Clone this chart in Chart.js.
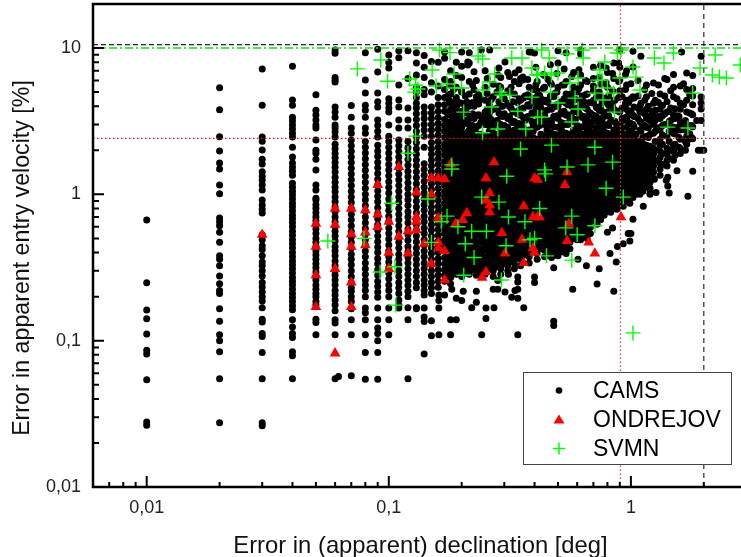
<!DOCTYPE html>
<html>
<head>
<meta charset="utf-8">
<title>Errors in apparent declination and entry velocity</title>
<script src="https://cdn.jsdelivr.net/npm/chart.js@4/dist/chart.umd.min.js"></script>
<style>
  html, body { margin: 0; padding: 0; background: #fff; }
  canvas { display: block; }
</style>
</head>
<body>
<canvas id="chart" width="741" height="557"></canvas>
<script>
const X_TITLE = "Error in (apparent) declination [deg]";
const Y_TITLE = "Error in apparent entry velocity [%]";
const LEGEND_NAMES = ["CAMS", "ONDREJOV", "SVMN"];

const xLimits = [0.006, 2.85];
const yLimits = [0.01, 20];
const xTickValues = [0.01, 0.1, 1];
const yTickValues = [0.01, 0.1, 1, 10];
const xMinorTicks = [0.007, 0.008, 0.009, 0.02, 0.03, 0.04, 0.05, 0.06, 0.07, 0.08, 0.09, 0.2, 0.3, 0.4, 0.5, 0.6, 0.7, 0.8, 0.9, 2];
const yMinorTicks = [0.02, 0.03, 0.04, 0.05, 0.06, 0.07, 0.08, 0.09, 0.2, 0.3, 0.4, 0.5, 0.6, 0.7, 0.8, 0.9, 2, 3, 4, 5, 6, 7, 8, 9];

// limits drawn as reference lines
const redVelocity = 2.41;
const redDeclination = 0.905;
const blackVelocity = 10.55;
const greenVelocity = 10;
const blackDeclination = 2;

// CAMS, one list of velocity errors per (quantised) declination error
const camsColumnX = [0.01, 0.02, 0.03, 0.04, 0.05, 0.06, 0.07, 0.08, 0.09, 0.1, 0.11, 0.12, 0.13, 0.14, 0.15, 0.16,
  0.17, 0.18, 0.19, 0.2, 0.215, 0.23, 0.25, 0.27, 0.29, 0.31, 0.33, 0.35, 0.38, 0.41, 0.44, 0.47, 0.5, 0.54, 0.58,
  0.62, 0.66, 0.7, 0.75, 0.8, 0.85, 0.9, 0.96, 1.02, 1.09, 1.16, 1.24, 1.32, 1.41, 1.5, 1.6, 1.7, 1.8, 1.95];
const camsColumnY = [
  [0.667, 0.249, 0.162, 0.141, 0.111, 0.086, 0.081, 0.054, 0.0278, 0.0264],
  [5.35, 3.79, 2.48, 1.98, 1.64, 1.49, 1.16, 1.01, 0.689, 0.65, 0.61, 0.55, 0.47, 0.38, 0.36, 0.325, 0.277, 0.245, 0.22, 0.21, 0.165, 0.136, 0.11, 0.1, 0.084, 0.055, 0.0275],
  [7.2, 4.07, 2.47, 2.31, 2.01, 1.74, 1.61, 1.43, 1.33, 1.25, 1.16, 1.07, 0.915, 0.845, 0.79, 0.745, 0.53, 0.49, 0.445, 0.42, 0.38, 0.345, 0.325, 0.3, 0.277, 0.25, 0.233, 0.215, 0.2, 0.187, 0.168, 0.14, 0.134, 0.112, 0.107, 0.083, 0.055, 0.0275, 0.0262],
  [7.5, 4.41, 4.07, 3.37, 3.17, 2.98, 2.8, 2.62, 2.47, 2.1, 1.8, 1.64, 1.53, 1.44, 1.35, 1.19, 1.12, 1.05, 0.99, 0.93, 0.87, 0.82, 0.77, 0.72, 0.68, 0.64, 0.6, 0.56, 0.525, 0.49, 0.46, 0.43, 0.4, 0.375, 0.35, 0.33, 0.31, 0.29, 0.27, 0.255, 0.24, 0.225, 0.21, 0.197, 0.185, 0.173, 0.163, 0.139, 0.124, 0.112, 0.105, 0.084, 0.079, 0.055],
  [4.8, 3.76, 3.48, 3.22, 2.98, 2.84, 2.35, 2.0, 1.91, 1.74, 1.47, 1.16, 1.07, 0.94, 0.915, 0.85, 0.8, 0.75, 0.7, 0.66, 0.62, 0.58, 0.54, 0.5, 0.47, 0.44, 0.41, 0.385, 0.36, 0.335, 0.315, 0.295, 0.275, 0.26, 0.24, 0.225, 0.21, 0.2, 0.185, 0.175, 0.14, 0.133, 0.11],
  [9.7, 9.2, 6.3, 6.05, 5.85, 3.95, 3.65, 3.37, 2.98, 2.84, 2.67, 2.47, 2.2, 2.05, 1.9, 1.78, 1.65, 1.53, 1.42, 1.31, 1.21, 1.12, 1.04, 0.96, 0.89, 0.82, 0.76, 0.7, 0.65, 0.6, 0.56, 0.52, 0.48, 0.44, 0.41, 0.38, 0.35, 0.325, 0.3, 0.28, 0.26, 0.24, 0.22, 0.205, 0.19, 0.175, 0.16, 0.139, 0.132, 0.11, 0.055],
  [4.05, 3.37, 2.84, 2.62, 2.35, 2.15, 1.97, 1.8, 1.65, 1.51, 1.38, 1.26, 1.15, 1.05, 0.96, 0.88, 0.8, 0.73, 0.67, 0.61, 0.56, 0.51, 0.47, 0.43, 0.39, 0.36, 0.33, 0.3, 0.275, 0.25, 0.23, 0.218, 0.2, 0.185, 0.165, 0.139, 0.11, 0.0575],
  [9.3, 6.04, 4.92, 4.07, 3.76, 3.37, 2.84, 2.62, 2.3, 2.1, 1.92, 1.75, 1.6, 1.46, 1.33, 1.21, 1.1, 1.0, 0.92, 0.84, 0.77, 0.7, 0.64, 0.585, 0.535, 0.49, 0.45, 0.41, 0.375, 0.34, 0.31, 0.285, 0.26, 0.24, 0.22, 0.2, 0.167, 0.155, 0.139, 0.11, 0.083, 0.0545],
  [9.8, 6.85, 4.92, 4.3, 3.95, 3.22, 2.95, 2.7, 2.47, 2.17, 1.98, 1.82, 1.66, 1.52, 1.39, 1.27, 1.16, 1.06, 0.97, 0.89, 0.81, 0.74, 0.68, 0.62, 0.57, 0.52, 0.475, 0.435, 0.4, 0.365, 0.335, 0.305, 0.28, 0.255, 0.235, 0.215, 0.198, 0.167, 0.139, 0.122, 0.112, 0.1, 0.083, 0.0545],
  [8.96, 8.0, 7.3, 4.5, 4.2, 3.9, 3.65, 2.98, 2.5, 2.3, 2.1, 1.92, 1.75, 1.6, 1.47, 1.34, 1.22, 1.12, 1.02, 0.93, 0.85, 0.78, 0.71, 0.65, 0.59, 0.54, 0.495, 0.45, 0.41, 0.375, 0.345, 0.315, 0.29, 0.265, 0.24, 0.22, 0.2, 0.167, 0.139, 0.11],
  [9.6, 8.6, 5.6, 4.41, 3.95, 3.22, 2.84, 2.35, 2.15, 1.97, 1.8, 1.65, 1.51, 1.38, 1.26, 1.15, 1.05, 0.96, 0.88, 0.8, 0.73, 0.67, 0.61, 0.56, 0.51, 0.47, 0.43, 0.39, 0.36, 0.33, 0.3, 0.275, 0.25, 0.23, 0.21, 0.19, 0.175, 0.167],
  [9.6, 6.2, 3.9, 3.22, 2.84, 2.3, 2.08, 1.9, 1.73, 1.58, 1.44, 1.32, 1.2, 1.1, 1.0, 0.92, 0.84, 0.76, 0.7, 0.64, 0.58, 0.53, 0.485, 0.44, 0.405, 0.37, 0.34, 0.31, 0.285, 0.26, 0.238, 0.218, 0.2, 0.168, 0.139, 0.055],
  [9.3, 7.9, 6.54, 5.4, 5.0, 4.6, 4.2, 3.9, 3.55, 3.25, 2.95, 2.7, 2.47, 2.25, 2.05, 1.88, 1.72, 1.57, 1.43, 1.3, 1.18, 1.08, 0.99, 0.9, 0.82, 0.75, 0.68, 0.62, 0.57, 0.52, 0.475, 0.43, 0.395, 0.36, 0.33, 0.3, 0.275, 0.25, 0.23, 0.168],
  [8.9, 7.4, 6.3, 5.2, 4.8, 3.95, 3.6, 3.3, 3.0, 2.75, 2.5, 2.1, 1.62, 1.48, 1.35, 1.23, 1.12, 1.02, 0.93, 0.85, 0.78, 0.71, 0.65, 0.59, 0.54, 0.49, 0.45, 0.41, 0.375, 0.34, 0.31, 0.285, 0.26, 0.24, 0.22, 0.205],
  [8.1, 5.8, 5.0, 3.95, 3.6, 3.3, 3.0, 2.75, 2.5, 2.25, 2.05, 1.88, 1.72, 1.57, 1.43, 1.3, 1.18, 1.08, 0.98, 0.9, 0.82, 0.75, 0.68, 0.62, 0.57, 0.52, 0.475, 0.43, 0.395, 0.36, 0.33, 0.3, 0.275, 0.25, 0.23, 0.21],
  [8.0, 5.5, 4.6, 4.1, 3.7, 3.35, 3.05, 2.8, 2.55, 2.3, 2.1, 1.92, 1.75, 1.6, 1.45, 1.33, 1.21, 1.1, 1.0, 0.91, 0.83, 0.76, 0.69, 0.63, 0.575, 0.525, 0.48, 0.44, 0.4, 0.365, 0.335, 0.305, 0.28, 0.255, 0.232],
  [9.4, 8.5, 6.1, 5.2, 4.6, 4.1, 3.7, 3.25, 2.95, 2.7, 2.45, 2.2, 2.02, 1.85, 1.68, 1.53, 1.4, 1.27, 1.16, 1.05, 0.96, 0.87, 0.79, 0.72, 0.65, 0.59, 0.54, 0.49, 0.45, 0.41, 0.37, 0.335, 0.305, 0.28, 0.255],
  [7.0, 5.9, 4.85, 4.2, 3.82, 3.47, 3.15, 2.87, 2.62, 2.38, 2.17, 1.97, 1.79, 1.63, 1.49, 1.35, 1.23, 1.12, 1.02, 0.925, 0.84, 0.765, 0.695, 0.63, 0.575, 0.525, 0.475, 0.435, 0.395, 0.36, 0.325, 0.295, 0.27, 0.245],
  [8.0, 6.5, 5.4, 4.4, 4.0, 3.65, 3.3, 3.0, 2.75, 2.5, 2.27, 2.07, 1.88, 1.71, 1.56, 1.42, 1.29, 1.17, 1.07, 0.97, 0.88, 0.8, 0.73, 0.66, 0.6, 0.55, 0.5, 0.455, 0.415, 0.375, 0.34, 0.31, 0.285],
  [6.3, 5.1, 4.2, 3.47, 3.15, 2.87, 2.62, 2.38, 2.17, 1.97, 1.79, 1.63, 1.49, 1.35, 1.23, 1.12, 1.02, 0.925, 0.84, 0.765, 0.695, 0.63, 0.575, 0.525, 0.475, 0.435, 0.395, 0.36, 0.325, 0.3, 0.275],
  [9.3, 7.9, 5.9, 4.85, 4.0, 3.3, 3.0, 2.75, 2.5, 2.27, 2.07, 1.88, 1.71, 1.56, 1.42, 1.29, 1.17, 1.07, 0.97, 0.88, 0.8, 0.73, 0.66, 0.6, 0.55, 0.5, 0.455, 0.415, 0.375, 0.34, 0.31, 0.285],
  [6.0, 4.65, 4.2, 3.47, 2.87, 2.62, 2.38, 2.17, 1.97, 1.79, 1.63, 1.49, 1.35, 1.23, 1.12, 1.02, 0.925, 0.84, 0.765, 0.695, 0.63, 0.575, 0.525, 0.475, 0.435, 0.395, 0.36, 0.325, 0.3, 0.28],
  [7.0, 5.4, 4.4, 3.65, 3.3, 3.0, 2.5, 2.27, 2.07, 1.88, 1.71, 1.56, 1.42, 1.29, 1.17, 1.07, 0.97, 0.88, 0.8, 0.73, 0.66, 0.6, 0.55, 0.5, 0.455, 0.415, 0.375, 0.34, 0.31, 0.285],
  [5.65, 4.65, 3.82, 3.15, 2.87, 2.62, 2.38, 2.17, 1.97, 1.79, 1.63, 1.49, 1.35, 1.23, 1.12, 1.02, 0.925, 0.84, 0.765, 0.695, 0.63, 0.575, 0.525, 0.475, 0.435, 0.395, 0.36, 0.325, 0.3, 0.275],
  [6.3, 5.4, 4.0, 3.47, 3.0, 2.75, 2.5, 2.27, 2.07, 1.88, 1.71, 1.56, 1.42, 1.29, 1.17, 1.07, 0.97, 0.88, 0.8, 0.73, 0.66, 0.6, 0.55, 0.5, 0.455, 0.415, 0.375, 0.34, 0.31, 0.285],
  [6.8, 5.1, 4.2, 3.3, 2.87, 2.62, 2.38, 2.17, 1.97, 1.79, 1.63, 1.49, 1.35, 1.23, 1.12, 1.02, 0.925, 0.84, 0.765, 0.695, 0.63, 0.575, 0.525, 0.475, 0.435, 0.395, 0.36, 0.325, 0.3],
  [5.9, 4.85, 3.65, 3.15, 2.75, 2.5, 2.27, 2.07, 1.88, 1.71, 1.56, 1.42, 1.29, 1.17, 1.07, 0.97, 0.88, 0.8, 0.73, 0.66, 0.6, 0.55, 0.5, 0.455, 0.415, 0.375, 0.34, 0.31],
  [6.2, 4.4, 3.82, 3.47, 3.0, 2.62, 2.38, 2.17, 1.97, 1.79, 1.63, 1.49, 1.35, 1.23, 1.12, 1.02, 0.925, 0.84, 0.765, 0.695, 0.63, 0.575, 0.525, 0.475, 0.435, 0.395, 0.36, 0.325],
  [9.4, 5.4, 4.65, 4.0, 3.3, 2.75, 2.5, 2.27, 2.07, 1.88, 1.71, 1.56, 1.42, 1.29, 1.17, 1.07, 0.97, 0.88, 0.8, 0.73, 0.66, 0.6, 0.55, 0.5, 0.455, 0.415, 0.375, 0.34],
  [5.9, 5.1, 4.2, 3.65, 3.15, 2.87, 2.38, 2.17, 1.97, 1.79, 1.63, 1.49, 1.35, 1.23, 1.12, 1.02, 0.925, 0.84, 0.765, 0.695, 0.63, 0.575, 0.525, 0.475, 0.435, 0.395, 0.36],
  [6.5, 5.4, 4.4, 3.47, 3.0, 2.5, 2.27, 2.07, 1.88, 1.71, 1.56, 1.42, 1.29, 1.17, 1.07, 0.97, 0.88, 0.8, 0.73, 0.66, 0.6, 0.55, 0.5, 0.455, 0.415, 0.375],
  [5.65, 4.65, 3.82, 3.15, 2.62, 2.38, 2.17, 1.97, 1.79, 1.63, 1.49, 1.35, 1.23, 1.12, 1.02, 0.925, 0.84, 0.765, 0.695, 0.63, 0.575, 0.525, 0.475, 0.435, 0.395, 0.37],
  [9.6, 7.9, 5.4, 4.0, 3.3, 2.87, 2.5, 2.27, 2.07, 1.88, 1.71, 1.56, 1.42, 1.29, 1.17, 1.07, 0.97, 0.88, 0.8, 0.73, 0.66, 0.6, 0.55, 0.5, 0.455, 0.415, 0.38],
  [9.3, 5.9, 4.85, 4.2, 3.47, 3.0, 2.62, 2.38, 2.17, 1.97, 1.79, 1.63, 1.49, 1.35, 1.23, 1.12, 1.02, 0.925, 0.84, 0.765, 0.695, 0.63, 0.575, 0.525, 0.475, 0.435, 0.395],
  [6.8, 5.4, 4.4, 3.65, 3.15, 2.75, 2.5, 2.27, 2.07, 1.88, 1.71, 1.56, 1.42, 1.29, 1.17, 1.07, 0.97, 0.88, 0.8, 0.73, 0.66, 0.6, 0.55, 0.5],
  [9.69, 9.1, 6.54, 5.6, 4.2, 3.47, 2.87, 2.62, 2.38, 2.17, 1.97, 1.79, 1.63, 1.49, 1.35, 1.23, 1.12, 1.02, 0.925, 0.84, 0.765, 0.695, 0.63, 0.575, 0.525, 0.49],
  [5.9, 4.85, 3.82, 3.3, 3.0, 2.75, 2.5, 2.27, 2.07, 1.88, 1.71, 1.56, 1.42, 1.29, 1.17, 1.07, 0.97, 0.88, 0.8, 0.73, 0.66, 0.6, 0.55, 0.5],
  [6.2, 5.1, 4.4, 3.47, 3.15, 2.62, 2.38, 2.17, 1.97, 1.79, 1.63, 1.49, 1.35, 1.23, 1.12, 1.02, 0.925, 0.84, 0.765, 0.695, 0.66],
  [7.6, 5.65, 4.65, 4.0, 3.3, 2.87, 2.5, 2.27, 2.07, 1.88, 1.71, 1.56, 1.42, 1.29, 1.17, 1.07, 0.97, 0.88, 0.8, 0.73, 0.67],
  [6.8, 5.4, 4.2, 3.65, 3.0, 2.62, 2.38, 2.17, 1.97, 1.79, 1.63, 1.49, 1.35, 1.23, 1.12, 1.02, 0.925, 0.84, 0.765],
  [7.9, 6.2, 4.4, 3.82, 3.15, 2.75, 2.5, 2.27, 2.07, 1.88, 1.71, 1.56, 1.42, 1.29, 1.17, 1.07, 0.97, 0.88, 0.8],
  [9.69, 7.4, 6.04, 5.1, 3.65, 3.0, 2.62, 2.38, 2.17, 1.97, 1.79, 1.63, 1.49, 1.35, 1.23, 1.12, 1.02, 0.925, 0.84],
  [7.0, 5.59, 4.4, 3.82, 3.3, 2.87, 2.5, 2.27, 2.07, 1.88, 1.71, 1.56, 1.42, 1.29, 1.17, 1.07, 0.97, 0.9],
  [7.42, 4.65, 3.47, 3.0, 2.62, 2.38, 2.17, 1.97, 1.79, 1.63, 1.49, 1.35, 1.23, 1.12, 1.02, 0.95],
  [4.0, 3.65, 3.15, 2.75, 2.27, 2.07, 1.88, 1.71, 1.56, 1.42, 1.29, 1.17, 1.07, 1.0],
  [5.59, 4.65, 3.82, 3.3, 2.87, 2.5, 2.17, 1.97, 1.79, 1.63, 1.49, 1.35, 1.23, 1.12],
  [5.77, 4.2, 3.47, 3.0, 2.62, 2.07, 1.88, 1.71, 1.56, 1.42, 1.29],
  [4.85, 3.82, 3.3, 2.75, 2.38, 2.17, 1.97, 1.79, 1.63, 1.49, 1.35],
  [6.1, 4.3, 3.65, 3.0, 2.5, 2.07, 1.88, 1.71, 1.56],
  [6.6, 5.4, 4.65, 3.47, 2.87, 2.62, 2.17, 1.97, 1.71],
  [5.5, 4.2, 3.82, 3.15, 2.75, 2.38, 2.07, 1.9],
  [6.75, 5.2, 4.4, 3.65, 3.0, 2.5, 2.2],
  [6.5, 5.3, 4.7, 4.1, 3.5, 2.9, 2.4],
  [8.8, 4.62, 4.21, 3.83, 3.2, 2.0]
];
// dots in the solid part of the cloud, between the columns above
const camsCoreX = [0.175, 0.185, 0.195, 0.207, 0.222, 0.24, 0.26, 0.28, 0.3, 0.32, 0.34, 0.365, 0.395, 0.425, 0.455, 0.485, 0.52, 0.56, 0.6, 0.64, 0.68, 0.725, 0.775, 0.825, 0.875, 0.93, 0.99, 1.05, 1.12, 1.2];
const camsCoreY = [
  [4.7, 3.55, 2.95, 2.7, 2.45, 2.23, 2.03, 1.85, 1.68, 1.53, 1.39, 1.27, 1.15, 1.05, 0.955, 0.87, 0.79, 0.72, 0.655, 0.595, 0.54, 0.49, 0.445, 0.405, 0.37, 0.335, 0.305, 0.28],
  [5.2, 3.9, 3.2, 2.58, 2.34, 2.13, 1.94, 1.76, 1.6, 1.46, 1.33, 1.21, 1.1, 1.0, 0.91, 0.83, 0.755, 0.685, 0.625, 0.57, 0.52, 0.47, 0.425, 0.385, 0.35, 0.32, 0.29],
  [4.25, 3.55, 2.95, 2.7, 2.45, 2.23, 2.03, 1.85, 1.68, 1.53, 1.39, 1.27, 1.15, 1.05, 0.955, 0.87, 0.79, 0.72, 0.655, 0.595, 0.54, 0.49, 0.445, 0.405, 0.37, 0.335, 0.305],
  [4.7, 3.9, 3.2, 2.58, 2.34, 2.13, 1.94, 1.76, 1.6, 1.46, 1.33, 1.21, 1.1, 1.0, 0.91, 0.83, 0.755, 0.685, 0.625, 0.57, 0.52, 0.47, 0.425, 0.385, 0.35, 0.32, 0.29],
  [5.6, 4.25, 3.55, 2.95, 2.7, 2.45, 2.23, 2.03, 1.85, 1.68, 1.53, 1.39, 1.27, 1.15, 1.05, 0.955, 0.87, 0.79, 0.72, 0.655, 0.595, 0.54, 0.49, 0.445, 0.405, 0.37, 0.335, 0.305],
  [4.5, 3.4, 3.1, 2.58, 2.34, 2.13, 1.94, 1.76, 1.6, 1.46, 1.33, 1.21, 1.1, 1.0, 0.91, 0.83, 0.755, 0.685, 0.625, 0.57, 0.52, 0.47, 0.425, 0.385, 0.35, 0.32, 0.29],
  [4.1, 3.55, 2.95, 2.7, 2.45, 2.23, 2.03, 1.85, 1.68, 1.53, 1.39, 1.27, 1.15, 1.05, 0.955, 0.87, 0.79, 0.72, 0.655, 0.595, 0.54, 0.49, 0.445, 0.405, 0.37, 0.335, 0.305],
  [5.0, 3.9, 3.2, 2.58, 2.34, 2.13, 1.94, 1.76, 1.6, 1.46, 1.33, 1.21, 1.1, 1.0, 0.91, 0.83, 0.755, 0.685, 0.625, 0.57, 0.52, 0.47, 0.425, 0.385, 0.35, 0.32],
  [4.5, 3.55, 2.95, 2.7, 2.45, 2.23, 2.03, 1.85, 1.68, 1.53, 1.39, 1.27, 1.15, 1.05, 0.955, 0.87, 0.79, 0.72, 0.655, 0.595, 0.54, 0.49, 0.445, 0.405, 0.37, 0.335],
  [5.4, 3.9, 3.2, 2.58, 2.34, 2.13, 1.94, 1.76, 1.6, 1.46, 1.33, 1.21, 1.1, 1.0, 0.91, 0.83, 0.755, 0.685, 0.625, 0.57, 0.52, 0.47, 0.425, 0.385, 0.35],
  [4.25, 3.55, 2.95, 2.7, 2.45, 2.23, 2.03, 1.85, 1.68, 1.53, 1.39, 1.27, 1.15, 1.05, 0.955, 0.87, 0.79, 0.72, 0.655, 0.595, 0.54, 0.49, 0.445, 0.405, 0.37],
  [4.7, 3.2, 2.58, 2.34, 2.13, 1.94, 1.76, 1.6, 1.46, 1.33, 1.21, 1.1, 1.0, 0.91, 0.83, 0.755, 0.685, 0.625, 0.57, 0.52, 0.47, 0.425, 0.385],
  [5.2, 3.55, 2.95, 2.7, 2.45, 2.23, 2.03, 1.85, 1.68, 1.53, 1.39, 1.27, 1.15, 1.05, 0.955, 0.87, 0.79, 0.72, 0.655, 0.595, 0.54, 0.49, 0.445, 0.405],
  [4.5, 3.9, 3.2, 2.58, 2.34, 2.13, 1.94, 1.76, 1.6, 1.46, 1.33, 1.21, 1.1, 1.0, 0.91, 0.83, 0.755, 0.685, 0.625, 0.57, 0.52, 0.47, 0.425],
  [6.1, 4.25, 2.95, 2.7, 2.45, 2.23, 2.03, 1.85, 1.68, 1.53, 1.39, 1.27, 1.15, 1.05, 0.955, 0.87, 0.79, 0.72, 0.655, 0.595, 0.54, 0.49, 0.445, 0.405],
  [4.9, 3.4, 2.58, 2.34, 2.13, 1.94, 1.76, 1.6, 1.46, 1.33, 1.21, 1.1, 1.0, 0.91, 0.83, 0.755, 0.685, 0.625, 0.57, 0.52, 0.47, 0.425, 0.385],
  [5.6, 3.55, 2.95, 2.7, 2.45, 2.23, 2.03, 1.85, 1.68, 1.53, 1.39, 1.27, 1.15, 1.05, 0.955, 0.87, 0.79, 0.72, 0.655, 0.595, 0.54, 0.49, 0.445, 0.405],
  [4.4, 3.2, 2.58, 2.34, 2.13, 1.94, 1.76, 1.6, 1.46, 1.33, 1.21, 1.1, 1.0, 0.91, 0.83, 0.755, 0.685, 0.625, 0.57, 0.52, 0.47, 0.425],
  [5.0, 3.9, 2.95, 2.7, 2.45, 2.23, 2.03, 1.85, 1.68, 1.53, 1.39, 1.27, 1.15, 1.05, 0.955, 0.87, 0.79, 0.72, 0.655, 0.595, 0.54, 0.49],
  [4.3, 3.4, 2.58, 2.34, 2.13, 1.94, 1.76, 1.6, 1.46, 1.33, 1.21, 1.1, 1.0, 0.91, 0.83, 0.755, 0.685, 0.625, 0.57, 0.52],
  [3.6, 2.95, 2.7, 2.45, 2.23, 2.03, 1.85, 1.68, 1.53, 1.39, 1.27, 1.15, 1.05, 0.955, 0.87, 0.79, 0.72, 0.655, 0.595, 0.54],
  [3.9, 3.2, 2.58, 2.34, 2.13, 1.94, 1.76, 1.6, 1.46, 1.33, 1.21, 1.1, 1.0, 0.91, 0.83, 0.755, 0.685, 0.625],
  [3.4, 2.95, 2.7, 2.45, 2.23, 2.03, 1.85, 1.68, 1.53, 1.39, 1.27, 1.15, 1.05, 0.955, 0.87, 0.79, 0.72],
  [4.1, 3.2, 2.58, 2.34, 2.13, 1.94, 1.76, 1.6, 1.46, 1.33, 1.21, 1.1, 1.0, 0.91, 0.83, 0.755],
  [2.95, 2.7, 2.45, 2.23, 2.03, 1.85, 1.68, 1.53, 1.39, 1.27, 1.15, 1.05, 0.955, 0.87, 0.79],
  [3.2, 2.58, 2.34, 2.13, 1.94, 1.76, 1.6, 1.46, 1.33, 1.21, 1.1, 1.0, 0.91, 0.83],
  [3.55, 2.7, 2.45, 2.23, 2.03, 1.85, 1.68, 1.53, 1.39, 1.27, 1.15, 1.05, 0.955, 0.87],
  [2.58, 2.34, 2.13, 1.94, 1.76, 1.6, 1.46, 1.33, 1.21, 1.1, 1.0],
  [2.95, 2.45, 2.23, 2.03, 1.85, 1.68, 1.53, 1.39, 1.27, 1.15, 1.05],
  [3.2, 2.58, 2.13, 1.94, 1.76, 1.6, 1.46, 1.33, 1.21, 1.1]
];
// looser upper part of the cloud
const camsUpperX = [0.178, 0.2, 0.225, 0.255, 0.285, 0.315, 0.345, 0.375, 0.405, 0.435, 0.465, 0.495, 0.53, 0.57, 0.61, 0.65, 0.7, 0.74, 0.79, 0.84, 0.89, 0.95, 1.0, 1.07, 1.14, 1.22, 1.3, 1.38, 1.46, 1.55, 1.65, 1.75];
const camsUpperY = [
  [5.6, 4.4, 3.5], [7.5, 5.0, 3.7, 3.1], [6.9, 5.2, 4.0, 3.3], [6.2, 4.9, 3.8, 3.2], [7.3, 5.5, 4.3, 3.6, 3.05],
  [6.4, 5.0, 4.0, 3.4], [7.1, 5.7, 4.5, 3.75, 3.05], [6.1, 4.8, 4.1, 3.4], [7.4, 5.6, 4.6, 3.85, 3.1], [6.6, 5.3, 4.3, 3.5],
  [7.7, 5.8, 4.7, 3.9, 3.2], [6.7, 5.0, 4.1, 3.45], [7.2, 5.6, 4.5, 3.7, 3.05], [6.4, 4.9, 4.0, 3.35], [7.1, 5.3, 4.4, 3.6],
  [6.0, 4.8, 3.9, 3.15], [7.4, 5.5, 4.2, 3.45], [6.3, 5.0, 3.75, 3.05], [7.3, 5.8, 4.55, 3.55], [6.7, 5.1, 4.0, 3.2],
  [7.9, 5.9, 4.6, 3.7], [6.6, 5.2, 4.2, 3.35], [5.7, 4.5, 3.7, 3.05], [6.0, 4.7, 3.9, 3.3], [5.2, 4.4, 3.55, 2.95],
  [4.9, 3.7, 3.15], [5.6, 4.25, 3.4, 2.85], [6.2, 4.7, 3.55, 3.0], [5.1, 3.9, 3.2], [4.5, 3.45, 2.75], [5.7, 4.1, 3.05], [4.8, 3.6, 2.6]
];
// fills the band above the solid part and the right hand side
const camsFringeX = [0.19, 0.21, 0.235, 0.265, 0.295, 0.325, 0.36, 0.39, 0.42, 0.45, 0.48, 0.515, 0.55, 0.59, 0.63, 0.675, 0.72, 0.76, 0.81, 0.86, 0.92, 0.98, 1.03, 1.1, 1.18, 1.26, 1.35, 1.44, 1.52, 1.58, 1.68, 1.78];
const camsFringeY = [
  [4.6, 3.95, 3.35, 2.9], [4.3, 3.6, 3.05, 2.65], [4.8, 4.15, 3.5, 2.95], [4.45, 3.75, 3.25, 2.8], [4.7, 4.0, 3.4, 2.9],
  [4.3, 3.7, 3.1, 2.7], [4.55, 3.9, 3.35, 2.85], [4.25, 3.6, 3.15, 2.7], [4.75, 4.05, 3.45, 2.95], [4.4, 3.75, 3.2, 2.75],
  [4.65, 3.95, 3.4, 2.9], [4.3, 3.65, 3.1, 2.7], [4.8, 4.1, 3.5, 3.0], [4.45, 3.8, 3.25, 2.75], [4.7, 4.0, 3.35, 2.9],
  [4.25, 3.6, 3.1, 2.7], [4.6, 3.95, 3.4, 2.85], [4.35, 3.7, 3.2, 2.75], [4.7, 4.05, 3.45, 2.95], [4.4, 3.75, 3.15, 2.7],
  [4.65, 3.9, 3.3, 2.85], [4.25, 3.6, 3.1, 2.65], [4.55, 3.95, 3.4, 2.9, 2.5], [4.2, 3.65, 3.1, 2.7, 2.3], [4.0, 3.4, 2.85, 2.45, 2.1],
  [4.4, 3.75, 3.2, 2.7, 2.3, 2.0, 1.7], [4.05, 3.45, 2.95, 2.55, 2.2, 1.9, 1.6], [3.7, 3.15, 2.7, 2.3, 2.0, 1.75], [3.85, 3.3, 2.6, 2.2, 1.85],
  [3.4, 2.9, 2.45, 2.1], [3.2, 2.75, 2.3, 2.0], [3.55, 2.95, 2.45]
];
// single dots outside the columns
const camsLooseX = [0.182, 0.203, 0.23, 0.27, 0.282, 0.302, 0.332, 0.341, 0.322, 0.341, 0.19, 0.2, 0.23, 0.22, 0.252, 0.272, 0.361, 0.252, 0.18, 0.19, 0.242, 0.341, 0.18, 0.161, 0.15, 0.15, 0.14, 0.14, 0.13, 0.14, 0.161, 0.161, 0.161, 0.17, 0.14, 0.4, 0.4, 0.341, 0.341, 0.312, 0.282, 0.48, 0.48, 0.48, 0.575, 0.725, 0.85, 0.74, 0.655, 0.605, 0.87, 0.82, 0.88, 0.84, 0.8, 0.975, 1.0, 0.99, 0.93, 1.02, 1.125, 1.2, 1.44, 1.72, 1.8, 1.42, 1.42, 1.25, 1.9, 2.0, 1.87, 1.72, 1.2, 1.27, 1.4, 1.55, 0.2, 0.212, 0.212, 0.241, 0.261, 0.282, 0.302, 0.332, 0.358, 0.358, 0.386, 0.4, 1.02, 1.1, 1.62, 0.062];
const camsLooseY = [0.225, 0.218, 0.218, 0.225, 0.225, 0.215, 0.22, 0.225, 0.198, 0.195, 0.195, 0.188, 0.183, 0.168, 0.167, 0.168, 0.168, 0.142, 0.139, 0.139, 0.11, 0.11, 0.11, 0.11, 0.108, 0.137, 0.145, 0.135, 0.165, 0.167, 0.167, 0.205, 0.188, 0.205, 0.081, 0.272, 0.25, 0.272, 0.252, 0.285, 0.258, 0.136, 0.127, 0.315, 0.225, 0.244, 0.218, 0.31, 0.325, 0.36, 0.345, 0.395, 0.44, 0.59, 0.55, 0.54, 0.54, 0.48, 0.46, 0.675, 0.83, 1.02, 1.02, 0.97, 1.44, 1.31, 1.14, 1.27, 2.0, 2.0, 3.2, 2.35, 1.0, 1.03, 1.25, 1.45, 9.39, 8.02, 7.65, 9.69, 9.69, 6.54, 8.02, 6.75, 6.33, 6.04, 9.39, 9.24, 9.5, 8.8, 9.4, 0.057];

const ondrejovX = [0.03, 0.05, 0.05, 0.05, 0.05, 0.06, 0.06, 0.06, 0.06, 0.07, 0.07, 0.07, 0.07, 0.07, 0.08, 0.08, 0.08, 0.09, 0.09, 0.09, 0.1, 0.1, 0.1, 0.11, 0.11, 0.12, 0.12, 0.13, 0.13, 0.13, 0.13, 0.14, 0.15, 0.15, 0.15, 0.16, 0.16, 0.16, 0.16, 0.17, 0.17, 0.17, 0.18, 0.21, 0.202, 0.189, 0.252, 0.261, 0.252, 0.261, 0.261, 0.272, 0.361, 0.394, 0.412, 0.42, 0.293, 0.355, 0.394, 0.302, 0.361, 0.252, 0.243, 0.4, 0.412, 0.545, 0.534, 0.555, 0.545, 0.67, 0.71, 0.91, 0.4];
const ondrejovY = [0.53, 0.63, 0.44, 0.28, 0.17, 0.8, 0.62, 0.31, 0.082, 0.8, 0.535, 0.44, 0.25, 0.17, 0.78, 0.55, 0.45, 1.16, 0.73, 0.6, 0.65, 0.4, 0.31, 1.54, 0.515, 0.56, 0.395, 1.03, 0.7, 0.65, 0.57, 0.46, 1.29, 1.0, 0.335, 1.29, 0.69, 0.47, 0.43, 1.27, 0.41, 0.26, 1.61, 0.745, 0.67, 0.63, 1.29, 1.02, 0.91, 0.845, 0.755, 1.66, 0.83, 0.7, 0.7, 0.7, 0.545, 0.49, 0.43, 0.395, 0.34, 0.295, 0.27, 1.29, 1.26, 1.42, 1.16, 0.63, 0.48, 0.47, 0.395, 0.7, 0.4];

const svmnX = [0.0742, 0.0927, 0.0988, 0.122, 0.129, 0.128, 0.132, 0.151, 0.157, 0.162, 0.179, 0.186, 0.174, 0.187, 0.2, 0.234, 0.244, 0.274, 0.261, 0.245, 0.288, 0.293, 0.316, 0.266, 0.204, 0.341, 0.282, 0.368, 0.244, 0.129, 0.12, 0.35, 0.182, 0.322, 0.355, 0.39, 0.408, 0.39, 0.412, 0.428, 0.46, 0.545, 0.63, 0.635, 0.88, 0.91, 1.25, 1.37, 1.5, 2.23, 0.78, 0.745, 0.412, 0.44, 0.47, 0.5, 0.56, 0.605, 0.73, 0.76, 0.9, 1.02, 1.05, 1.09, 0.8, 0.85, 0.71, 0.767, 0.588, 0.466, 0.5, 0.605, 0.855, 0.428, 0.57, 1.42, 1.72, 1.8, 1.93, 2.17, 2.32, 2.48, 2.83, 0.47, 0.71, 0.84, 0.665, 0.545, 0.44, 0.182, 0.307, 0.242, 0.285, 0.145, 0.1026, 0.174, 0.165, 0.312, 0.365, 0.193, 0.22, 0.253, 0.42, 0.079, 0.15, 0.207, 0.383, 0.305, 0.225, 0.106, 0.092, 0.204, 0.292, 0.107, 0.056, 0.444, 0.79, 0.93, 0.57, 0.71, 0.538, 0.6, 0.4, 0.448, 0.57, 1.02];
const svmnY = [7.2, 8.28, 5.93, 6.14, 5.59, 5.0, 5.25, 7.08, 5.5, 9.69, 9.3, 6.64, 5.68, 5.33, 5.33, 8.82, 8.41, 6.64, 5.86, 5.17, 5.0, 4.77, 4.77, 3.95, 3.65, 3.7, 2.8, 2.8, 2.64, 2.5, 1.91, 2.04, 1.59, 8.55, 8.55, 7.3, 6.54, 4.62, 3.37, 9.69, 8.55, 9.1, 9.69, 8.55, 9.24, 9.69, 8.55, 7.9, 9.24, 8.96, 8.02, 7.08, 6.54, 6.75, 6.54, 6.75, 5.77, 6.24, 6.04, 6.04, 6.24, 7.42, 6.33, 5.17, 5.33, 4.92, 4.92, 4.41, 4.55, 5.0, 4.21, 3.83, 3.65, 3.37, 3.12, 2.88, 2.84, 4.92, 7.3, 6.54, 6.33, 6.24, 7.65, 2.17, 2.1, 1.66, 1.59, 1.54, 1.47, 1.49, 1.33, 0.958, 0.885, 0.93, 0.87, 0.71, 0.65, 0.7, 0.65, 0.6, 0.56, 0.56, 0.8, 0.5, 0.47, 0.46, 0.49, 0.445, 0.37, 0.32, 0.295, 0.28, 0.26, 0.175, 0.48, 1.38, 1.1, 0.958, 0.71, 0.61, 0.59, 0.53, 0.5, 0.38, 0.355, 0.113];

function zipPoints(xs, ys) {
  return xs.map((x, i) => ({ x: x, y: ys[i] }));
}

function columnPoints(xs, lists) {
  let points = [];
  xs.forEach((x, i) => {
    lists[i].forEach(y => points.push({ x: x, y: y }));
  });
  return points;
}

function refLine(xs, ys, color, width, dash, order) {
  return {
    showLine: true, data: zipPoints(xs, ys), borderColor: color, borderWidth: width,
    borderDash: dash, pointRadius: 0, order: order, clip: false
  };
}

function commaLabel(value) {
  return String(value).replace(".", ",");
}

function noPadding(s) {
  s.paddingTop = 0;
  s.paddingBottom = 0;
  s.paddingLeft = 0;
  s.paddingRight = 0;
}

// ticks point inwards here and chart.js only draws them outwards
const framePlugin = {
  id: "frame",
  afterDatasetsDraw(chart) {
    const ctx = chart.ctx, area = chart.chartArea;
    const x = chart.scales.x, y = chart.scales.y;
    ctx.save();
    ctx.strokeStyle = "#000";
    ctx.lineWidth = 2;
    ctx.beginPath();
    xMinorTicks.forEach(v => { let p = x.getPixelForValue(v); ctx.moveTo(p, area.bottom); ctx.lineTo(p, area.bottom - 5); });
    xTickValues.forEach(v => { let p = x.getPixelForValue(v); ctx.moveTo(p, area.bottom); ctx.lineTo(p, area.bottom - 11); });
    yMinorTicks.forEach(v => { let p = y.getPixelForValue(v); ctx.moveTo(area.left, p); ctx.lineTo(area.left + 6, p); });
    yTickValues.forEach(v => { let p = y.getPixelForValue(v); ctx.moveTo(area.left, p); ctx.lineTo(area.left + 11, p); });
    ctx.stroke();
    ctx.lineWidth = 2.5;
    ctx.beginPath();
    ctx.moveTo(area.right, area.top);
    ctx.lineTo(area.left, area.top);
    ctx.lineTo(area.left, area.bottom);
    ctx.lineTo(area.right, area.bottom);
    ctx.stroke();
    ctx.restore();
  },
  afterDraw(chart) {
    const ctx = chart.ctx;
    ctx.save();

    // axis titles sit off centre, so not the scale title option
    ctx.fillStyle = "#111";
    ctx.textAlign = "center";
    ctx.textBaseline = "alphabetic";
    ctx.font = "23.8px 'Liberation Sans'";
    ctx.fillText(X_TITLE, 420.5, 553);
    ctx.save();
    ctx.translate(28.5, 258);
    ctx.rotate(-Math.PI / 2);
    ctx.font = "23.2px 'Liberation Sans'";
    ctx.fillText(Y_TITLE, 0, 0);
    ctx.restore();

    // legend box
    ctx.textAlign = "left";
    ctx.fillStyle = "#fff";
    ctx.strokeStyle = "#444";
    ctx.lineWidth = 1;
    ctx.fillRect(523, 372.5, 208, 92);
    ctx.strokeRect(523.5, 372.5, 208, 92);
    ctx.fillStyle = "#000";
    ctx.font = "23px 'Liberation Sans'";
    ctx.textBaseline = "middle";
    const rowY = [390.5, 419.5, 448.5];
    LEGEND_NAMES.forEach((name, i) => ctx.fillText(name, 593, rowY[i] + 1));
    ctx.beginPath();
    ctx.arc(559, rowY[0], 3.3, 0, Math.PI * 2);
    ctx.fill();
    ctx.fillStyle = "#ff0000";
    ctx.beginPath();
    ctx.moveTo(559, rowY[1] - 5);
    ctx.lineTo(564.5, rowY[1] + 4);
    ctx.lineTo(553.5, rowY[1] + 4);
    ctx.closePath();
    ctx.fill();
    ctx.strokeStyle = "#00ff00";
    ctx.lineWidth = 1.5;
    ctx.beginPath();
    ctx.moveTo(553, rowY[2]);
    ctx.lineTo(565, rowY[2]);
    ctx.moveTo(559, rowY[2] - 6);
    ctx.lineTo(559, rowY[2] + 6);
    ctx.stroke();
    ctx.restore();
  }
};

let chart = new Chart(document.getElementById("chart"), {
  type: "scatter",
  plugins: [framePlugin],
  data: {
    datasets: [
      refLine(xLimits, [greenVelocity, greenVelocity], "#00ee00", 1.5, [8, 3, 2, 3], 1),
      refLine(xLimits, [blackVelocity, blackVelocity], "#222", 1.2, [5, 3], 2),
      refLine([blackDeclination, blackDeclination], yLimits, "#555", 1.5, [5, 4], 2),
      refLine(xLimits, [redVelocity, redVelocity], "#ff0000", 1.2, [1.5, 2.5], 3),
      refLine([redDeclination, redDeclination], yLimits, "#ff3030", 1.2, [1.5, 2.5], 3),
      { label: "SVMN", data: zipPoints(svmnX, svmnY), pointStyle: "cross", pointRadius: 7.5, pointBorderWidth: 1.4, pointBorderColor: "#00ff00", borderColor: "#00ff00", order: 4, clip: false },
      { label: "ONDREJOV", data: zipPoints(ondrejovX, ondrejovY), pointStyle: "triangle", pointRadius: 6.2, pointBorderWidth: 0, pointBackgroundColor: "#ff0000", backgroundColor: "#ff0000", order: 5 },
      {
        label: "CAMS",
        data: columnPoints(camsColumnX, camsColumnY).concat(columnPoints(camsCoreX, camsCoreY), columnPoints(camsUpperX, camsUpperY), columnPoints(camsFringeX, camsFringeY), zipPoints(camsLooseX, camsLooseY)),
        pointStyle: "circle", pointRadius: 3.5, pointBorderWidth: 0, pointBackgroundColor: "#000", backgroundColor: "#000", order: 6
      }
    ]
  },
  options: {
    responsive: false,
    animation: false,
    events: [],
    layout: { autoPadding: false, padding: { top: 4, right: 0, bottom: 0, left: 0 } },
    plugins: { legend: { display: false }, tooltip: { enabled: false } },
    scales: {
      x: {
        type: "logarithmic", min: xLimits[0], max: xLimits[1],
        afterFit: s => { s.height = 70; noPadding(s); },
        afterBuildTicks: s => { s.ticks = xTickValues.map(v => ({ value: v, major: true })); },
        afterTickToLabelConversion: s => { s.ticks.forEach(t => { t.label = commaLabel(t.value); }); },
        grid: { display: false, drawTicks: false },
        border: { display: false },
        ticks: { autoSkip: false, maxRotation: 0, padding: 10, color: "#222", font: { family: "'Liberation Sans'", size: 18 } }
      },
      y: {
        type: "logarithmic", min: yLimits[0], max: yLimits[1],
        afterFit: s => { s.width = 93; noPadding(s); },
        afterBuildTicks: s => { s.ticks = yTickValues.map(v => ({ value: v, major: true })); },
        afterTickToLabelConversion: s => { s.ticks.forEach(t => { t.label = commaLabel(t.value); }); },
        grid: { display: false, drawTicks: false },
        border: { display: false },
        ticks: { autoSkip: false, padding: 12, color: "#222", font: { family: "'Liberation Sans'", size: 18 } }
      }
    }
  }
});
</script>
</body>
</html>
